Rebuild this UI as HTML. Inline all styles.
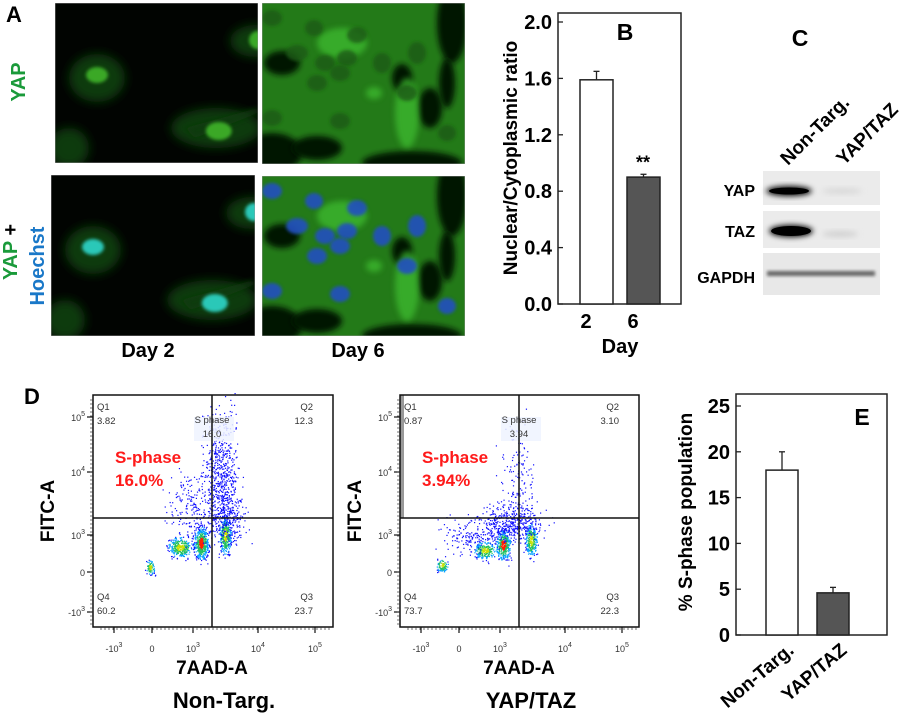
<!DOCTYPE html>
<html><head><meta charset="utf-8"><style>
html,body{margin:0;padding:0;background:#fff;width:900px;height:720px;overflow:hidden}
svg{display:block;font-family:"Liberation Sans",Arial,sans-serif}
.b{font-weight:bold}
</style></head><body>
<svg id="fig" width="900" height="720" viewBox="0 0 900 720">
<defs>
<filter id="blur1" x="-50%" y="-50%" width="200%" height="200%"><feGaussianBlur stdDeviation="1.5"/></filter>
<filter id="blur3" x="-50%" y="-50%" width="200%" height="200%"><feGaussianBlur stdDeviation="3"/></filter>
<filter id="blur6" x="-50%" y="-50%" width="200%" height="200%"><feGaussianBlur stdDeviation="5"/></filter>
<clipPath id="c1"><rect x="55" y="3" width="203" height="160"/></clipPath>
<clipPath id="c2"><rect x="262" y="3" width="203" height="161"/></clipPath>
<clipPath id="c3"><rect x="51" y="175" width="204" height="161"/></clipPath>
<clipPath id="c4"><rect x="262" y="176" width="203" height="160"/></clipPath>
</defs>

<g>
<text x="6" y="22" class="b" font-size="22">A</text>
<text transform="translate(25,82) rotate(-90)" text-anchor="middle" class="b" font-size="20" fill="#1a9a3a">YAP</text>
<text transform="translate(17,252) rotate(-90)" text-anchor="middle" class="b" font-size="20"><tspan fill="#1a9a3a">YAP</tspan><tspan fill="#000"> +</tspan></text>
<text transform="translate(44,266) rotate(-90)" text-anchor="middle" class="b" font-size="20" fill="#1a78c8">Hoechst</text>
<g id="micro"></g>
<text x="148" y="357" text-anchor="middle" class="b" font-size="20">Day 2</text>
<text x="358" y="357" text-anchor="middle" class="b" font-size="20">Day 6</text>
</g>

<g id="panelB">
<text x="625" y="40" text-anchor="middle" class="b" font-size="23">B</text>
<text transform="translate(517,158) rotate(-90)" text-anchor="middle" class="b" font-size="19">Nuclear/Cytoplasmic ratio</text>
<text x="620" y="353" text-anchor="middle" class="b" font-size="20">Day</text>
</g>

<g>
<text x="800" y="46" text-anchor="middle" class="b" font-size="23">C</text>
<text transform="translate(788,166) rotate(-45)" class="b" font-size="19">Non-Targ.</text>
<text transform="translate(844,166) rotate(-45)" class="b" font-size="19">YAP/TAZ</text>
<rect x="763" y="171" width="117" height="34" fill="#ebebeb"/>
<rect x="763" y="211" width="117" height="37" fill="#ebebeb"/>
<rect x="763" y="253" width="117" height="42" fill="#e8e8e8"/>
<ellipse cx="789" cy="191" rx="23" ry="5" fill="#000" filter="url(#blur3)"/>
<ellipse cx="789" cy="191" rx="20" ry="3.5" fill="#000"/>
<ellipse cx="842" cy="191" rx="20" ry="3" fill="#d8d8d8" filter="url(#blur3)"/>
<ellipse cx="791" cy="231" rx="22" ry="6" fill="#000" filter="url(#blur3)"/>
<ellipse cx="791" cy="231" rx="20" ry="5" fill="#000"/>
<ellipse cx="840" cy="234" rx="18" ry="3" fill="#d0d0d0" filter="url(#blur3)"/>
<rect x="767" y="271" width="108" height="5" fill="#666" filter="url(#blur1)"/>
<text x="755" y="196" text-anchor="end" class="b" font-size="16">YAP</text>
<text x="755" y="237" text-anchor="end" class="b" font-size="16">TAZ</text>
<text x="755" y="283" text-anchor="end" class="b" font-size="16">GAPDH</text>
</g>

<g id="panelD">
<text x="24" y="404" class="b" font-size="22">D</text>
</g>

<g id="panelE">
<text x="862" y="425" text-anchor="middle" class="b" font-size="23">E</text>
<text transform="translate(692,512) rotate(-90)" text-anchor="middle" class="b" font-size="19">% S-phase population</text>
</g>
</svg>
<script>
const NS='http://www.w3.org/2000/svg';
function mk(tag,attrs,parent){const e=document.createElementNS(NS,tag);for(const k in attrs)e.setAttribute(k,attrs[k]);parent.appendChild(e);return e;}

// ---- Panel B data ----
const bCategories=['2','6'];
const bValues=[1.59,0.90];
const bErrors=[0.06,0.02];
const bTicks=[0,0.4,0.8,1.2,1.6,2.0];
const bColors=['#fff','#555'];
// ---- Panel E data ----
const eCategories=['Non-Targ.','YAP/TAZ'];
const eValues=[18,4.6];
const eErrors=[2,0.6];
const eTicks=[0,5,10,15,20,25];
const eColors=['#fff','#555'];

function barChart(g,o){
  const y=v=>o.y0-(v-o.min)/(o.max-o.min)*(o.y0-o.yTop);
  mk('rect',{x:o.fx,y:o.fy,width:o.fw,height:o.fh,fill:'none',stroke:'#222','stroke-width':1.5},g);
  o.ticks.forEach(t=>{
    const l=mk('line',{x1:o.fx,x2:o.fx+5,y1:y(t),y2:y(t),stroke:'#222','stroke-width':1.3},g);
    
    const tx=mk('text',{x:o.fx-6,y:y(t)+7,'text-anchor':'end','font-size':20,'font-weight':'bold'},g);
    tx.textContent=o.fmt(t);
    
    
  });
  o.values.forEach((v,i)=>{
    const x=o.bx[i];
    const ey=y(v+o.errors[i]);
    const el=mk('line',{x1:x+o.bw/2,x2:x+o.bw/2,y1:y(v),y2:ey,stroke:'#222','stroke-width':1.3},g);
    
    const ec=mk('line',{x1:x+o.bw/2-3,x2:x+o.bw/2+3,y1:ey,y2:ey,stroke:'#222','stroke-width':1.3},g);
    
    const r=mk('rect',{x:x,y:y(v),width:o.bw,height:o.y0-y(v),fill:o.colors[i],stroke:'#222','stroke-width':1.5},g);
    
    
  });
  return y;
}
const gB=document.getElementById('panelB');
const yB=barChart(gB,{fx:558,fy:13,fw:123,fh:291,y0:304,yTop:22,min:0,max:2,ticks:bTicks,fmt:t=>t.toFixed(1),values:bValues,errors:bErrors,bx:[580,627],bw:33,colors:bColors,cats:bCategories});
bCategories.forEach((c,i)=>{
  const t=mk('text',{x:[596,643][i]-10,y:328,'text-anchor':'middle','font-size':20,'font-weight':'bold'},gB);
  t.textContent=c;
  
  
});
const star=mk('text',{x:643,y:yB(bValues[1]+bErrors[1])-6,'text-anchor':'middle','font-size':18,'font-weight':'bold'},gB);
star.textContent='**';



const gE=document.getElementById('panelE');
barChart(gE,{fx:736,fy:394,fw:151,fh:241,y0:635,yTop:406,min:0,max:25,ticks:eTicks,fmt:t=>String(t),values:eValues,errors:eErrors,bx:[766,817],bw:32,colors:eColors,cats:eCategories});
eCategories.forEach((c,i)=>{
  const t=mk('text',{'text-anchor':'end','font-size':19,'font-weight':'bold',transform:`translate(${[795,848][i]},${652}) rotate(-40)`},gE);
  t.textContent=c;
  
  
});

// ---- Microscopy (decorative) ----
const micro=document.getElementById('micro');
const panels=[[55,3,203,160,'c1',0],[262,3,203,161,'c2',1],[51,175,204,161,'c3',0],[262,176,203,160,'c4',1]];
const d2Cells=[[30,75,28,24],[143,38,25,16],[115,125,45,20],[10,145,20,20]];
const d2Nuc=[[30,72,11,8],[145,37,9,9],[117,128,13,9]];
const d6Nuc=[[10,15,10,8],[52,25,9,8],[95,32,10,8],[35,50,11,8],[63,60,10,8],[85,55,10,8],[55,80,10,8],[78,70,10,8],[120,60,9,10],[155,50,9,11],[145,90,10,8],[78,118,10,8],[10,115,10,8],[185,130,9,8]];
panels.forEach((p,pi)=>{
  const g=mk('g',{'clip-path':`url(#${p[4]})`},micro);
  
  
  mk('rect',{x:p[0],y:p[1],width:p[2],height:p[3],fill:'#010401'},g);
  if(p[5]===0){
    d2Cells.forEach(c=>mk('ellipse',{cx:p[0]+c[0]*1.4,cy:p[1]+c[1],rx:c[2],ry:c[3],fill:'#113a0b',filter:'url(#blur6)'},g));
    mk('path',{d:`M${p[0]+130} ${p[1]+125} L${p[0]+203} ${p[1]+105} L${p[0]+203} ${p[1]+110} L${p[0]+140} ${p[1]+135}Z`,fill:'#103a0a',filter:'url(#blur3)'},g);
    d2Nuc.forEach(n=>mk('ellipse',{cx:p[0]+n[0]*1.4,cy:p[1]+n[1],rx:n[2],ry:n[3],fill:pi<2?'#3aa826':'#2cc8b8',filter:'url(#blur1)'},g));
  } else {
    mk('rect',{x:p[0],y:p[1],width:p[2],height:p[3],fill:'#237a18'},g);
    [[10,150,30,20],[190,20,15,40],[168,105,12,20],[55,145,25,12],[150,160,50,12],[185,80,8,25],[20,60,18,12],[140,75,10,14]].forEach(d=>mk('ellipse',{cx:p[0]+d[0],cy:p[1]+d[1],rx:d[2],ry:d[3],fill:'#051505',filter:'url(#blur3)'},g));
    [[145,110,12,35],[80,40,25,15],[112,90,8,6]].forEach(d=>mk('ellipse',{cx:p[0]+d[0],cy:p[1]+d[1],rx:d[2],ry:d[3],fill:'#40c030',opacity:0.7,filter:'url(#blur3)'},g));
    d6Nuc.forEach(n=>mk('ellipse',{cx:p[0]+n[0],cy:p[1]+n[1],rx:n[2],ry:n[3],fill:pi===3?'#2250c0':'#1c5a14',opacity:pi===3?0.9:0.8,filter:'url(#blur1)'},g));
  }
  mk('rect',{x:p[0],y:p[1],width:p[2],height:p[3],fill:'none',stroke:'#999','stroke-width':0.8},g);
});

// ---- Flow cytometry plots (panel D) ----
const flowLabels=[
  {q1:'3.82',q2:'12.3',q3:'23.7',q4:'60.2',s:'16.0',title:'Non-Targ.'},
  {q1:'0.87',q2:'3.10',q3:'22.3',q4:'73.7',s:'3.94',title:'YAP/TAZ'}
];
const yTickLabels=['10^5','10^4','10^3','0','-10^3'];
const xTickLabels=['-10^3','0','10^3','10^4','10^5'];
const clustersA=[[108,148,5,11,450],[87,152,8,7,300],[132,140,4,13,350],[57,172,3,5,80],[128,75,11,40,550],[100,110,18,22,200],[135,120,12,20,250]];
const clustersB=[[103,150,5,10,350],[85,155,8,6,250],[131,145,4,11,250],[42,170,4,5,80],[118,80,12,40,130],[112,128,20,13,400],[72,140,22,12,160]];
let seed=12345;
function rnd(){seed=(seed*16807)%2147483647;return seed/2147483647;}
function gauss(){return (rnd()+rnd()+rnd()+rnd()-2)/0.816;}
const gD=document.getElementById('panelD');
function supLabel(g,x,y,s,anchor){
  const t=mk('text',{x:x,y:y,'text-anchor':anchor,'font-size':9,fill:'#333'},g);
  const parts=s.split('^');
  t.textContent=parts[0];
  if(parts[1]){const sp=mk('tspan',{dy:-5,'font-size':7},t);sp.textContent=parts[1];}
  
  
}
[93,400].forEach((ox,k)=>{
  const oy=395,W=k?239:240,H=232,vx=ox+119,hy=oy+123;
  const g=mk('g',{},gD);
  
  
  if(k===1){mk('rect',{x:ox,y:oy,width:4,height:123,fill:'#999'},g);}
  const cl=k?clustersB:clustersA;
  cl.forEach((c,ci)=>{
    for(let i=0;i<c[4];i++){
      const px=ox+c[0]+gauss()*c[2],py=oy+c[1]+gauss()*c[3];
      const d=Math.hypot((px-ox-c[0])/c[2],(py-oy-c[1])/c[3]);
      let col='#1010ff';
      if(ci<4){col=d<0.5?(ci===0?'#ff2000':'#c8e000'):d<1?'#20c060':d<1.5?'#00a0ff':'#1010ff';}
      mk('rect',{x:px,y:py,width:1.2,height:1.2,fill:col},g);
    }
  });
  mk('rect',{x:vx-18,y:oy+22,width:40,height:24,fill:'#eef3ff',opacity:0.85},g);
  mk('rect',{x:ox,y:oy,width:W,height:H,fill:'none',stroke:'#111','stroke-width':1.5},g);
  const vl=mk('line',{x1:vx,x2:vx,y1:oy,y2:oy+H,stroke:'#111','stroke-width':1.5},g);
  
  const hl=mk('line',{x1:ox,x2:ox+W,y1:hy,y2:hy,stroke:'#111','stroke-width':1.5},g);
  
  const yPos=[417,472,535,572,612];
  yTickLabels.forEach((s,i)=>{supLabel(g,ox-8,yPos[i]+4,s,'end');mk('line',{x1:ox-6,x2:ox,y1:yPos[i],y2:yPos[i],stroke:'#111','stroke-width':1.2},g);});
  for(let yy=oy+5;yy<oy+H;yy+=4)mk('line',{x1:ox-3,x2:ox,y1:yy,y2:yy,stroke:'#333','stroke-width':0.7},g);
  const xPos=[21,59,100,165,222];
  xTickLabels.forEach((s,i)=>{supLabel(g,ox+xPos[i],oy+H+25,s,'middle');mk('line',{x1:ox+xPos[i],x2:ox+xPos[i],y1:oy+H,y2:oy+H+6,stroke:'#111','stroke-width':1.2},g);});
  for(let xx=ox+8;xx<ox+W;xx+=4)mk('line',{x1:xx,x2:xx,y1:oy+H,y2:oy+H+3,stroke:'#333','stroke-width':0.7},g);
  const L=flowLabels[k];
  [['Q1',ox+4,oy+15,'start'],[L.q1,ox+4,oy+29,'start'],['Q2',ox+W-20,oy+15,'end'],[L.q2,ox+W-20,oy+29,'end'],
   ['S phase',vx,oy+28,'middle'],[L.s,vx,oy+42,'middle'],
   ['Q4',ox+4,oy+205,'start'],[L.q4,ox+4,oy+219,'start'],['Q3',ox+W-20,oy+205,'end'],[L.q3,ox+W-20,oy+219,'end']].forEach(q=>{
    const t=mk('text',{x:q[1],y:q[2],'text-anchor':q[3],'font-size':9.5,fill:'#333'},g);
    t.textContent=q[0];
    
    
  });
  const r1=mk('text',{x:ox+22,y:oy+68,'font-size':17,'font-weight':'bold',fill:'#ff1a1a'},g);
  r1.textContent='S-phase';
  
  
  const r2=mk('text',{x:ox+22,y:oy+91,'font-size':17,'font-weight':'bold',fill:'#ff1a1a'},g);
  r2.textContent=L.s+'%';
  
  
  const yt=mk('text',{transform:`translate(${ox-39},${oy+116}) rotate(-90)`,'text-anchor':'middle','font-size':19,'font-weight':'bold'},g);
  yt.textContent='FITC-A';
  
  
  const xt=mk('text',{x:vx,y:oy+H+47,'text-anchor':'middle','font-size':19,'font-weight':'bold'},g);
  xt.textContent='7AAD-A';
  
  
  const tt=mk('text',{x:vx+12,y:oy+H+81,'text-anchor':'middle','font-size':22,'font-weight':'bold'},g);
  tt.textContent=L.title;
  
  
});
</script>
</body></html>
